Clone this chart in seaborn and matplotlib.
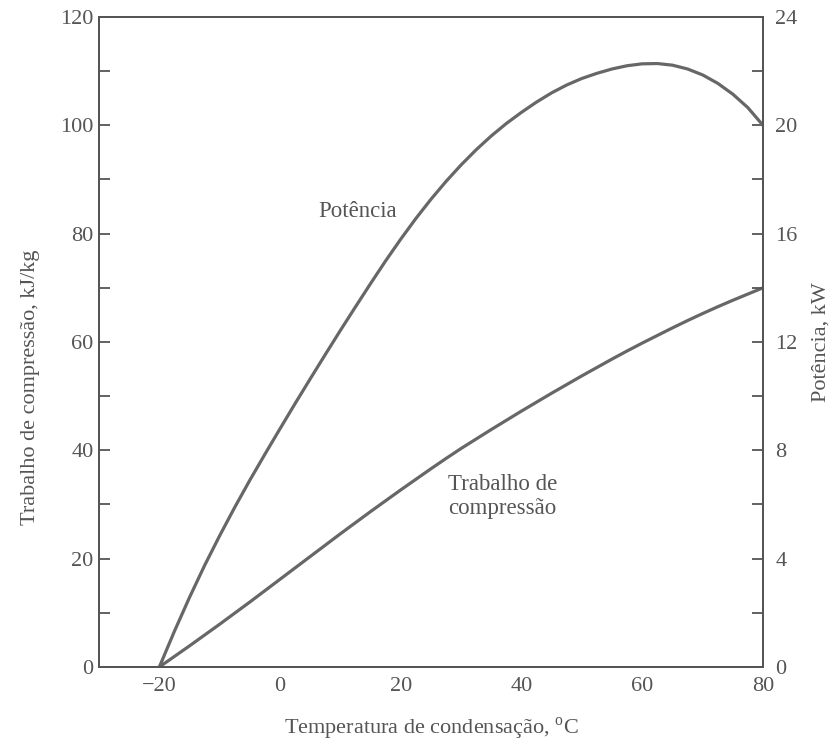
import matplotlib
matplotlib.use("Agg")
import matplotlib.pyplot as plt
from matplotlib.ticker import FixedLocator
import seaborn as sns
import pandas as pd

# Condensing temperature (°C)
temperatura = [-20, -17.5, -15, -12.5, -10, -7.5, -5, -2.5, 0, 2.5, 5, 7.5, 10, 12.5, 15,
               17.5, 20, 22.5, 25, 27.5, 30, 32.5, 35, 37.5, 40, 42.5, 45, 47.5, 50,
               52.5, 55, 57.5, 60, 62.5, 65, 67.5, 70, 72.5, 75, 77.5, 80]
# Compression work (kJ/kg)
trabalho = [0.0, 1.95, 3.9, 5.9, 7.9, 9.95, 12.0, 14.1, 16.2, 18.3, 20.4, 22.5, 24.6,
            26.65, 28.7, 30.7, 32.7, 34.65, 36.6, 38.5, 40.35, 42.1, 43.85, 45.55, 47.25,
            48.9, 50.55, 52.15, 53.75, 55.3, 56.85, 58.35, 59.8, 61.2, 62.6, 63.95, 65.25,
            66.5, 67.7, 68.85, 70.0]
# Compressor power (kW)
potencia = [0.0, 1.32, 2.57, 3.75, 4.85, 5.9, 6.9, 7.86, 8.8, 9.73, 10.64, 11.54, 12.43,
            13.3, 14.16, 15.0, 15.8, 16.56, 17.27, 17.93, 18.54, 19.1, 19.61, 20.07, 20.48,
            20.86, 21.2, 21.49, 21.73, 21.92, 22.08, 22.2, 22.27, 22.28, 22.22, 22.08, 21.86,
            21.55, 21.15, 20.65, 20.0]

x_major = [-20, 0, 20, 40, 60, 80]
x_minor = [-10, 10, 30, 50, 70]
y_major = [0, 20, 40, 60, 80, 100, 120]
y_minor = [10, 30, 50, 70, 90, 110]
y2_major = [0, 4, 8, 12, 16, 20, 24]
y2_minor = [2, 6, 10, 14, 18, 22]

df = pd.DataFrame({"T": temperatura, "W": trabalho, "P": potencia})

sns.set_theme(style="white")
plt.rcParams["font.family"] = ["Liberation Serif", "DejaVu Serif"]
plt.rcParams["mathtext.fontset"] = "custom"
plt.rcParams["mathtext.rm"] = "Liberation Serif"

ink = "#555555"
line_c = "#676767"

fig = plt.figure(figsize=(8.38, 7.44), dpi=100)
ax = fig.add_axes([0.1181, 0.1035, 0.7924, 0.8737])
ax2 = ax.twinx()

sns.lineplot(data=df, x="T", y="W", ax=ax, color=line_c, linewidth=2.3)
sns.lineplot(data=df, x="T", y="P", ax=ax2, color=line_c, linewidth=2.3)

ax.set_xlim(-30, 80)
ax.set_ylim(0, 120)
ax2.set_ylim(0, 24)

for a in (ax, ax2):
    for s in a.spines.values():
        s.set_color(ink)
        s.set_linewidth(1.4)

ax.xaxis.set_major_locator(FixedLocator(x_major))
ax.xaxis.set_minor_locator(FixedLocator(x_minor))
ax.yaxis.set_major_locator(FixedLocator(y_major))
ax.yaxis.set_minor_locator(FixedLocator(y_minor))
ax2.yaxis.set_major_locator(FixedLocator(y2_major))
ax2.yaxis.set_minor_locator(FixedLocator(y2_minor))

ax.tick_params(axis="x", which="both", direction="in", length=8, width=1.3,
               color=ink, labelcolor=ink, labelsize=16, pad=7, top=False)
ax.tick_params(axis="y", which="both", direction="in", length=8, width=1.3,
               color=ink, labelcolor=ink, labelsize=16, pad=4, right=False)
ax2.tick_params(axis="y", which="both", direction="in", length=8, width=1.3,
                color=ink, labelcolor=ink, labelsize=16, pad=9)
ax.set_xticklabels([str(v) if v >= 0 else "\u2212" + str(-v) for v in x_major])

ax.set_xlabel("Temperatura de condensação, $^{\\mathrm{o}}$C", fontsize=16, color=ink, labelpad=14)
ax.set_ylabel("Trabalho de compressão, kJ/kg", fontsize=16, color=ink)
ax.yaxis.set_label_coords(-0.089, 0.43)
ax2.set_ylabel("Potência, kW", fontsize=16, color=ink, labelpad=10)

ax.text(12.8, 84.1, "Potência", fontsize=16.5, color=ink, ha="center", va="center")
ax.text(36.8, 31.5, "Trabalho de\ncompressão", fontsize=16.5, color=ink, ha="center",
        va="center", linespacing=1.2)

fig.savefig("out.png", dpi=100)
